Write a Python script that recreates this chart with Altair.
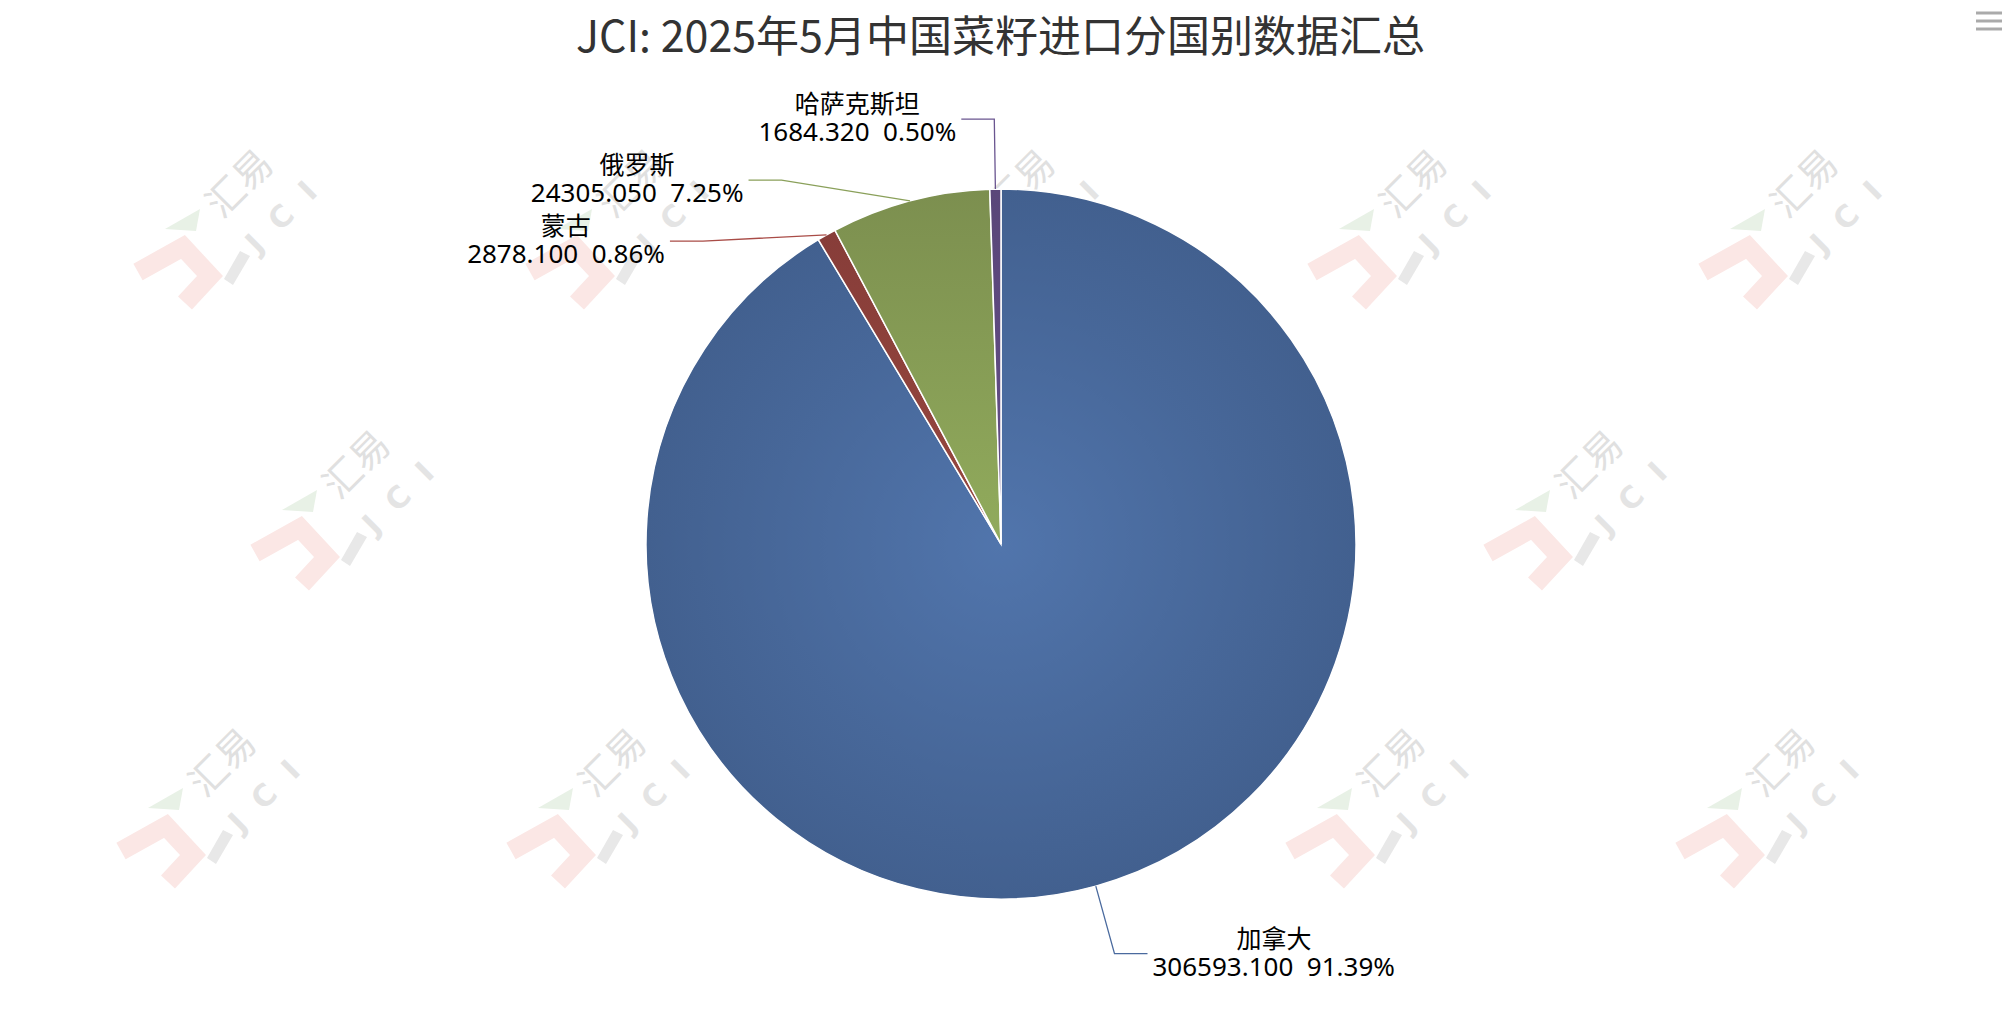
import math
import altair as alt
import pandas as pd

# ---------------- data ----------------
countries = ["加拿大", "蒙古", "俄罗斯", "哈萨克斯坦"]
values = [306593.100, 2878.100, 24305.050, 1684.320]
title_text = "JCI: 2025年5月中国菜籽进口分国别数据汇总"

# ---------------- style / layout ----------------
inner_colors = ["#5175ac", "#97473f", "#91ab5c", "#634e88"]
rim_colors = ["#42608f", "#873d39", "#7c8f4f", "#5a4679"]
line_colors = ["#4a6a9e", "#a94c47", "#8aa05a", "#6a5590"]
FONT = "Noto Sans CJK SC"
LABEL_FONT = "'Noto Sans', 'Noto Sans CJK SC'"
OX, OY = 8, 8
W, H = 1996, 1000
CX, CY, R = 1001 - OX, 544 - OY, 355
LABEL_R = R + 70
ARM = 33
GAP = 5
MIN_SPACING = 61
FS = 26
LINE = 28

total = sum(values)

# width estimate (Noto Sans metrics) for centring the name above the number line
CW = {"d": 0.572, ".": 0.268, "%": 0.85, " ": 0.26, "\u00a0": 0.26}
def est_width(s, fs):
    w = 0
    for ch in s:
        if ch.isdigit():
            w += CW["d"]
        else:
            w += CW.get(ch, 1.0)
    return w * fs

# ---------------- slices ----------------
slices = []
cum = 0.0
for i, (c, v) in enumerate(zip(countries, values)):
    a0 = cum / total * 2 * math.pi
    cum += v
    a1 = cum / total * 2 * math.pi
    mid = (a0 + a1) / 2
    slices.append(dict(country=c, value=v, pct=v / total * 100, start=a0, end=a1, mid=mid, idx=i))
pie_df = pd.DataFrame(slices)

# label layout (Highcharts-like)
for s in slices:
    s["ex"] = CX + R * math.sin(s["mid"])
    s["ey"] = CY - R * math.cos(s["mid"])
    s["ly"] = CY - LABEL_R * math.cos(s["mid"])
    s["left"] = math.sin(s["mid"]) < 0
for side in (True, False):
    grp = sorted([s for s in slices if s["left"] == side], key=lambda s: s["ly"])
    prev = None
    for s in grp:
        if prev is not None and s["ly"] < prev + MIN_SPACING:
            s["ly"] = prev + MIN_SPACING
        prev = s["ly"]

conn_rows, num_rows, name_rows = [], [], []
for s in slices:
    dy = s["ly"] - CY
    dx = math.sqrt(max(LABEL_R ** 2 - dy ** 2, 0))
    sign = -1 if s["left"] else 1
    bx = CX + sign * dx
    tx = bx + sign * ARM
    for k, (px, py) in enumerate([(s["ex"], s["ey"]), (bx, s["ly"]), (tx, s["ly"])]):
        conn_rows.append(dict(country=s["country"], k=k, px=px, py=py))
    num_txt = f"{s['value']:.3f}\u00a0\u00a0{s['pct']:.2f}%"
    anchor = tx + sign * GAP
    wnum = est_width(num_txt, FS)
    num_rows.append(dict(country=s["country"], px=anchor, py=s["ly"] + LINE / 2,
                         txt=num_txt, align="right" if s["left"] else "left"))
    name_rows.append(dict(country=s["country"], px=anchor + sign * wnum / 2,
                          py=s["ly"] - LINE / 2, txt=s["country"]))
conn_df = pd.DataFrame(conn_rows)
num_df = pd.DataFrame(num_rows)
name_df = pd.DataFrame(name_rows)

# ---------------- watermark (decoration) ----------------
wm_centers_x = [220, 612, 1002, 1394, 1785, 337, 1570, 203, 593, 983, 1372, 1762]
wm_centers_y = [233, 233, 233, 233, 233, 514, 514, 812, 812, 812, 812, 812]
wm = pd.DataFrame({"px": [x - OX for x in wm_centers_x], "py": [y - OY for y in wm_centers_y]})
J_PATH = "M -0.82 0.39 L -0.37 0.14 L -0.10 0.43 L -0.35 0.70"
TRI_PATH = "M -0.55 -0.04 L -0.20 -0.24 L -0.24 -0.02 Z"
PARA_PATH = "M 0.04 0.46 L 0.20 0.18 L 0.30 0.23 L 0.13 0.52 Z"
LOGO_SIZE = 200 ** 2

X = lambda f: alt.X(f, type="quantitative", scale=None, axis=None)
Y = lambda f: alt.Y(f, type="quantitative", scale=None, axis=None)

wm_base = alt.Chart(wm).encode(x=X("px"), y=Y("py"))
wm_j = wm_base.mark_point(shape=J_PATH, size=LOGO_SIZE, filled=False, stroke="#fbe7e5",
                          strokeWidth=19, strokeJoin="miter", opacity=1)
wm_tri = wm_base.mark_point(shape=TRI_PATH, size=LOGO_SIZE, filled=True, fill="#e8f1e6",
                            strokeWidth=0, opacity=1)
wm_para = wm_base.mark_point(shape=PARA_PATH, size=LOGO_SIZE, filled=True, fill="#e8e8e8",
                             strokeWidth=0, opacity=1)
wm_t1 = alt.Chart(wm).transform_calculate(tx="datum.px + 21", ty="datum.py - 48").mark_text(
    text="汇易", font=FONT, fontSize=38, angle=315, color="#e0e0e0", align="center", baseline="middle"
).encode(x=X("tx"), y=Y("ty"))
wm_t2 = alt.Chart(wm).transform_calculate(tx="datum.px + 62", ty="datum.py - 15").mark_text(
    text="J\u00a0\u00a0C\u00a0\u00a0I", font="DejaVu Sans", fontSize=30, fontWeight="bold",
    angle=315, color="#e4e4e4", align="center", baseline="middle"
).encode(x=X("tx"), y=Y("ty"))

# ---------------- pie ----------------
layers = [wm_j, wm_tri, wm_para, wm_t1, wm_t2]
for i, c in enumerate(countries):
    if i == 0:
        grad = alt.RadialGradient(gradient="radial", x1=0.5, y1=0.5, r1=0, x2=0.5, y2=0.5, r2=0.5,
                                  stops=[alt.GradientStop(color=inner_colors[i], offset=0),
                                         alt.GradientStop(color=rim_colors[i], offset=1)])
    else:
        grad = alt.LinearGradient(gradient="linear", x1=1, y1=1, x2=1, y2=0,
                                  stops=[alt.GradientStop(color=inner_colors[i], offset=0),
                                         alt.GradientStop(color=rim_colors[i], offset=1)])
    arc = alt.Chart(pie_df).transform_filter(alt.datum.country == c).mark_arc(
        fill=grad, stroke="white", strokeWidth=1.5, outerRadius=R
    ).encode(
        theta=alt.Theta("start:Q", scale=None),
        theta2="end:Q",
        x=alt.value(CX), y=alt.value(CY),
    )
    layers.append(arc)

conn = alt.Chart(conn_df).mark_line(strokeWidth=1.3).encode(
    x=X("px"), y=Y("py"), detail="country:N", order="k:Q",
    color=alt.Color("country:N", scale=alt.Scale(domain=countries, range=line_colors), legend=None),
)
num_left = alt.Chart(num_df).transform_filter(alt.datum.align == "right").mark_text(
    font=LABEL_FONT, fontSize=FS, color="#000000", baseline="middle", align="right"
).encode(x=X("px"), y=Y("py"), text="txt:N")
num_right = alt.Chart(num_df).transform_filter(alt.datum.align == "left").mark_text(
    font=LABEL_FONT, fontSize=FS, color="#000000", baseline="middle", align="left"
).encode(x=X("px"), y=Y("py"), text="txt:N")
names = alt.Chart(name_df).mark_text(
    font=LABEL_FONT, fontSize=FS - 1, color="#000000", baseline="middle", align="center"
).encode(x=X("px"), y=Y("py"), text="txt:N")

title = alt.Chart(pd.DataFrame({"t": [title_text]})).mark_text(
    font=FONT, fontSize=43, color="#333333", align="center", baseline="middle"
).encode(x=alt.value(1000.5 - OX), y=alt.value(38.5 - OY), text="t:N")

menu_df = pd.DataFrame({"yy": [13 - OY, 21 - OY, 29 - OY], "x0": [1976 - OX] * 3, "x1": [2002 - OX] * 3})
menu = alt.Chart(menu_df).mark_rule(color="#aaaaaa", strokeWidth=3).encode(
    x=X("x0"), x2="x1", y=Y("yy")
)

layers += [conn, num_left, num_right, names, title, menu]

chart = alt.layer(*layers).properties(
    width=W, height=H, autosize=alt.AutoSizeParams(type="none"), padding=0, background="white"
).configure_view(strokeWidth=0, stroke="transparent")

chart.save("out.html", embed_options={"renderer": "svg", "actions": False})
